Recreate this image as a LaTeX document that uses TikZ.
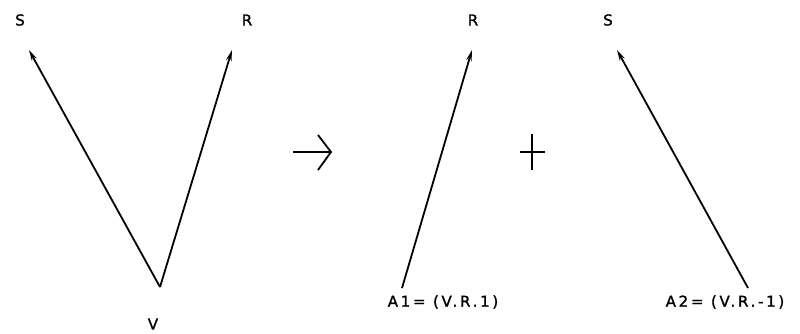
\documentclass[tikz,border=0pt]{standalone}
\usepackage{fontspec}
\setmainfont{DejaVu Sans}[LetterSpace=18,FakeBold=1.5]
\usetikzlibrary{arrows.meta}
\begin{document}
\begin{tikzpicture}[x=1pt,y=-1pt,
  vec/.style={line width=1.8pt,-{Stealth[length=11pt,width=5.5pt]}},
  sym/.style={line width=1.8pt},
  thinsym/.style={line width=1.3pt},
  lbl/.style={font=\fontsize{15}{15}\selectfont, inner sep=0pt}]
\useasboundingbox (0,0) rectangle (800,334);
% left V
\coordinate (v) at (160,287);
\coordinate (s1) at (29,50);
\coordinate (r1) at (232,50);
\node[lbl] (S1) at (20,20) {S};
\node[lbl] (R1) at (247,20) {R};
\node[lbl] (V) at (153,324) {V};
\draw[vec] (v) -- (s1);
\draw[vec] (v) -- (r1);
% implication arrow
\coordinate (a0) at (293,152);
\coordinate (a1) at (331,152);
\coordinate (au) at (318,135);
\coordinate (ad) at (318,170);
\draw[sym] (a0) -- (a1);
\draw[sym] (au) -- (a1) -- (ad);
% plus
\coordinate (ph0) at (520,152);
\coordinate (ph1) at (545,152);
\coordinate (pv0) at (532,134);
\coordinate (pv1) at (532,170);
\draw[thinsym] (ph0) -- (ph1);
\draw[thinsym] (pv0) -- (pv1);
% middle vector
\coordinate (m0) at (402,288);
\coordinate (m1) at (472,50);
\node[lbl] (R2) at (473,20) {R};
\draw[vec] (m0) -- (m1);
\node[lbl] (A1) at (443,302) {A1= (V.R.1)};
% right vector
\coordinate (n0) at (748,288);
\coordinate (n1) at (617,50);
\node[lbl] (S2) at (608,20) {S};
\draw[vec] (n0) -- (n1);
\node[lbl] (A2) at (725,302) {A2= (V.R.-1)};
\end{tikzpicture}
\end{document}
